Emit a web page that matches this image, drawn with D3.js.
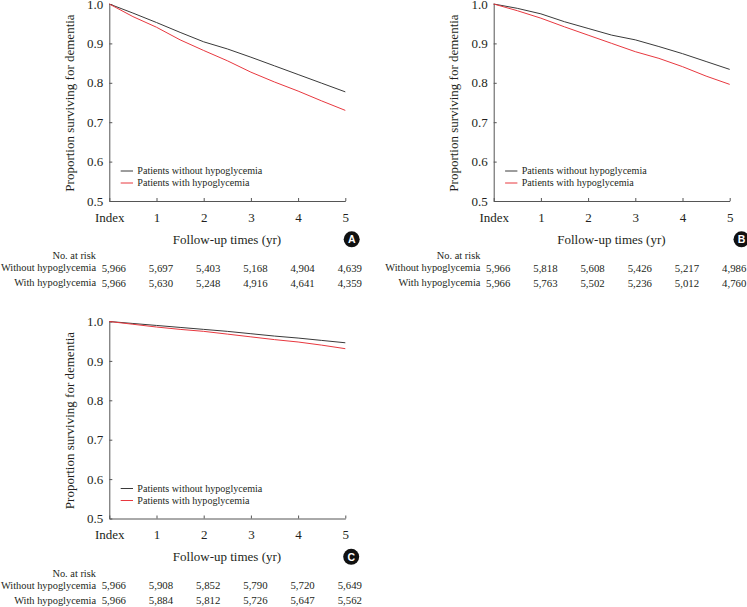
<!DOCTYPE html>
<html><head><meta charset="utf-8">
<script src="https://cdn.jsdelivr.net/npm/d3@7"></script>
<style>
html,body{margin:0;padding:0;background:#fff;}
svg{display:block;}
text{font-family:"Liberation Serif","Times New Roman",serif;fill:#231f20;}
</style></head>
<body>
<svg id="c" width="747" height="607"></svg>
<script>
// ---- data ----
const years = [0,0.5,1,1.5,2,2.5,3,3.5,4,4.5,5];
const xTickValues = [0,1,2,3,4,5];
const xTickLabels = ["Index","1","2","3","4","5"];
const yTickValues = [0.5,0.6,0.7,0.8,0.9,1.0];
const seriesNames = ["Patients without hypoglycemia","Patients with hypoglycemia"];
const riskRowLabels = ["Without hypoglycemia","With hypoglycemia"];
const panelLetters = ["A","B","C"];

const aWithout = [1.0,0.977,0.953,0.928,0.904,0.886,0.865,0.843,0.821,0.799,0.777];
const aWith    = [1.0,0.968,0.941,0.909,0.882,0.856,0.827,0.802,0.779,0.754,0.730];
const bWithout = [1.0,0.989,0.975,0.955,0.938,0.921,0.909,0.892,0.874,0.854,0.834];
const bWith    = [1.0,0.983,0.964,0.942,0.921,0.900,0.879,0.862,0.841,0.817,0.796];
const cWithout = [1.0,0.995,0.990,0.985,0.980,0.975,0.969,0.963,0.958,0.952,0.946];
const cWith    = [1.0,0.993,0.986,0.980,0.975,0.968,0.961,0.954,0.948,0.940,0.931];

const riskAWithout = [5966,5697,5403,5168,4904,4639];
const riskAWith    = [5966,5630,5248,4916,4641,4359];
const riskBWithout = [5966,5818,5608,5426,5217,4986];
const riskBWith    = [5966,5763,5502,5236,5012,4760];
const riskCWithout = [5966,5908,5852,5790,5720,5649];
const riskCWith    = [5966,5884,5812,5726,5647,5562];

// ---- layout ----
const colors = ["#3a3a3a","#e8383f"];
const panels = [
  {ox:0, oy:0, s:[aWithout,aWith], r:[riskAWithout,riskAWith], badge:[351.7,239.3]},
  {ox:384.4, oy:0, s:[bWithout,bWith], r:[riskBWithout,riskBWith], badge:[741.5,239.3]},
  {ox:0, oy:317.5, s:[cWithout,cWith], r:[riskCWithout,riskCWith], badge:[351.2,556.8]}
];

const svg = d3.select("#c");
const fmt = d3.format(",");

panels.forEach((p,pi)=>{
  const g = svg.append("g");
  const x = d3.scaleLinear().domain([0,5]).range([109.3+p.ox, 345.3+p.ox]);
  const y = d3.scaleLinear().domain([0.5,1.0]).range([201+p.oy, 4+p.oy]);

  // y axis
  const ya = g.append("g").attr("transform",`translate(${x(0)},0)`)
    .call(d3.axisLeft(y).tickValues(yTickValues).tickFormat(d3.format(".1f"))
      .tickSizeInner(-3).tickSizeOuter(0).tickPadding(6));
  ya.select(".domain").attr("stroke","#555").attr("stroke-width",1);
  ya.selectAll(".tick line").attr("stroke","#555");
  ya.selectAll(".tick text").attr("font-size",13).attr("font-family","Liberation Serif").attr("fill","#231f20");

  // x axis
  const xa = g.append("g").attr("transform",`translate(0,${y(0.5)})`)
    .call(d3.axisBottom(x).tickValues(xTickValues).tickFormat((d,i)=>xTickLabels[i])
      .tickSizeInner(-3).tickSizeOuter(0).tickPadding(0));
  xa.select(".domain").attr("stroke","#555").attr("stroke-width",1);
  xa.selectAll(".tick line").attr("stroke","#555");
  xa.selectAll(".tick text").attr("font-size",13).attr("font-family","Liberation Serif")
    .attr("fill","#231f20").attr("y",11.3);

  // curves
  const line = d3.line().x((d,i)=>x(years[i])).y(d=>y(d));
  p.s.forEach((vals,si)=>{
    g.append("path").datum(vals).attr("d",line).attr("fill","none")
      .attr("stroke",colors[si]).attr("stroke-width",1);
  });

  // legend
  seriesNames.forEach((nm,si)=>{
    const ly = 171 + si*12 + p.oy;
    g.append("line").attr("x1",120.7+p.ox).attr("x2",133+p.ox).attr("y1",ly).attr("y2",ly)
      .attr("stroke",colors[si]).attr("stroke-width",1);
    g.append("text").attr("x",137.3+p.ox).attr("y",ly).attr("dy","0.33em")
      .attr("font-size",10.1).text(nm);
  });

  // y title
  g.append("text").attr("transform",`translate(${69+p.ox},${103+p.oy}) rotate(-90)`)
    .attr("text-anchor","middle").attr("dy","0.35em").attr("font-size",13)
    .text("Proportion surviving for dementia");
  // x title
  g.append("text").attr("x",227+p.ox).attr("y",239+p.oy).attr("dy","0.35em")
    .attr("text-anchor","middle").attr("font-size",13).text("Follow-up times (yr)");

  // badge
  g.append("circle").attr("cx",p.badge[0]).attr("cy",p.badge[1]).attr("r",8).attr("fill","#111");
  g.append("text").attr("x",p.badge[0]).attr("y",p.badge[1]).attr("dy","0.36em")
    .attr("text-anchor","middle").attr("font-size",10.5).attr("font-weight","bold")
    .attr("font-family","Liberation Sans, Arial, sans-serif").attr("fill","#fff")
    .style("font-family","'Liberation Sans',Arial,sans-serif").style("fill","#fff")
    .text(panelLetters[pi]);

  // risk table
  g.append("text").attr("x",96+p.ox).attr("y",255.5+p.oy).attr("dy","0.35em")
    .attr("text-anchor","end").attr("font-size",10.4).text("No. at risk");
  riskRowLabels.forEach((lab,ri)=>{
    const ry = 267.8 + ri*15 + p.oy;
    g.append("text").attr("x",96+p.ox).attr("y",ry).attr("dy","0.35em")
      .attr("text-anchor","end").attr("font-size",10.4).text(lab);
    p.r[ri].forEach((v,k)=>{
      g.append("text").attr("x",x(xTickValues[k])+4.5).attr("y",ry).attr("dy","0.35em")
        .attr("text-anchor","middle").attr("font-size",10.8).text(fmt(v));
    });
  });
});
</script>
</body></html>
